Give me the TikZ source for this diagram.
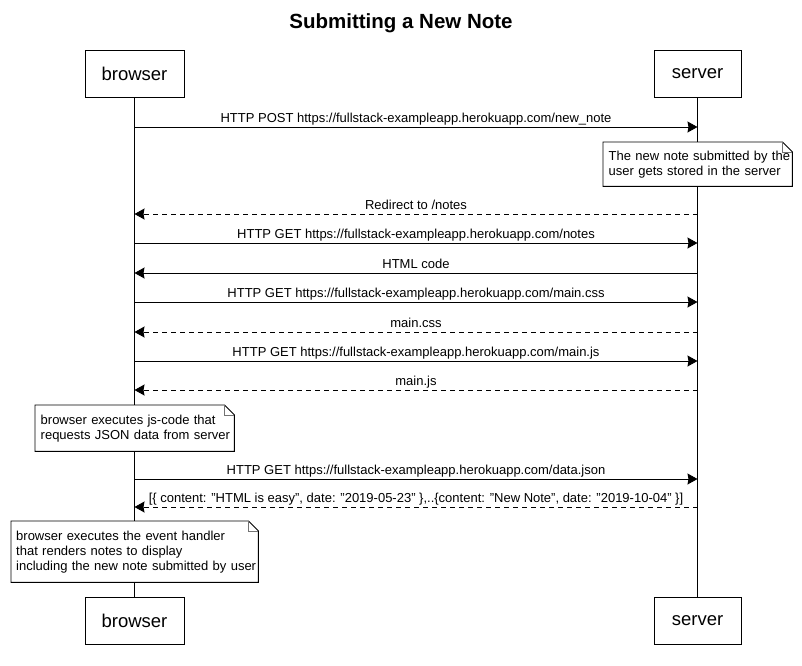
\documentclass[tikz,border=0pt]{standalone}
\usepackage{fontspec}
\setmainfont{Liberation Sans}
\usetikzlibrary{arrows.meta}
\newcommand{\msgfont}{\fontsize{13}{15}\selectfont}
\tikzset{
  actorbox/.style={draw=black, line width=0.9pt, fill=white, minimum height=47pt, inner sep=0pt, font=\fontsize{18.5}{22}\selectfont},
  lifeline/.style={draw=black, line width=0.9pt},
  reqarrow/.style={draw=black, line width=0.9pt, -{Stealth[length=10pt,width=11pt,inset=1pt]}},
  resarrow/.style={draw=black, line width=0.9pt, dash pattern=on 5pt off 4pt, -{Stealth[length=10pt,width=11pt,inset=1pt]}},
  lbl/.style={midway, anchor=base, yshift=4.5pt, inner sep=0pt, font=\msgfont},
  notetext/.style={fill=white, draw=none, inner sep=0pt, align=left, font=\msgfont, anchor=north west},
  noteline/.style={draw=black, line width=0.9pt, line join=miter},
  foldline/.style={draw=black!55, line width=0.8pt}
}
\newcommand{\notebox}[1]{%
  \draw[noteline] (#1.north west) -- ([xshift=-10pt]#1.north east) -- ([yshift=-10pt]#1.north east) -- (#1.south east) -- (#1.south west) -- cycle;
  \draw[foldline] ([xshift=-10pt]#1.north east) -- ([xshift=-10pt,yshift=-10pt]#1.north east) -- ([yshift=-10pt]#1.north east);
}
\begin{document}
\begin{tikzpicture}[x=1pt,y=-1pt]
\useasboundingbox (0,0) rectangle (802,665);
\fill[white] (0,0) rectangle (802,665);

\node[font=\bfseries\fontsize{20.5}{24}\selectfont, anchor=base, inner sep=0pt] (title) at (401,28) {Submitting a New Note};

% participants
\node[actorbox, minimum width=99pt] (bt) at (134.5,73.5) {browser};
\node[actorbox, minimum width=87pt] (st) at (697.5,73.5) {server};
\node[actorbox, minimum width=99pt] (bb) at (134.5,620.5) {browser};
\node[actorbox, minimum width=87pt] (sb) at (697.5,620.5) {server};

% lifelines
\draw[lifeline] (bt.south) -- (bb.north);
\draw[lifeline] (st.south) -- (sb.north);

% message end points
\foreach \i/\y in {1/127,2/214,3/243,4/273,5/302,6/332,7/361,8/390,9/479,10/507}{
  \coordinate (b\i) at (134.5,\y);
  \coordinate (s\i) at (697.5,\y);
}

\draw[reqarrow] (b1) -- node[lbl]{HTTP POST https://fullstack-exampleapp.herokuapp.com/new\_note} (s1);

\node[notetext, minimum width=189pt, minimum height=44pt, text width=189pt] (n1) at (603,142)
  {\hspace*{5.5pt}The new note submitted by the\\\hspace*{5.5pt}user gets stored in the server};
\notebox{n1}

\draw[resarrow] (s2) -- node[lbl]{Redirect to /notes} (b2);
\draw[reqarrow] (b3) -- node[lbl]{HTTP GET https://fullstack-exampleapp.herokuapp.com/notes} (s3);
\draw[reqarrow] (s4) -- node[lbl]{HTML code} (b4);
\draw[reqarrow] (b5) -- node[lbl]{HTTP GET https://fullstack-exampleapp.herokuapp.com/main.css} (s5);
\draw[resarrow] (s6) -- node[lbl]{main.css} (b6);
\draw[reqarrow] (b7) -- node[lbl]{HTTP GET https://fullstack-exampleapp.herokuapp.com/main.js} (s7);
\draw[resarrow] (s8) -- node[lbl]{main.js} (b8);

\node[notetext, minimum width=199pt, minimum height=46pt, text width=199pt] (n2) at (35,405)
  {\hspace*{5.5pt}browser executes js-code that\\\hspace*{5.5pt}requests JSON data from server};
\notebox{n2}

\draw[reqarrow] (b9) -- node[lbl]{HTTP GET https://fullstack-exampleapp.herokuapp.com/data.json} (s9);
\draw[resarrow] (s10) -- node[lbl]{[\{ content: "HTML is easy", date: "2019-05-23" \},..\{content: "New Note", date: "2019-10-04" \}]} (b10);

\node[notetext, minimum width=247pt, minimum height=61pt, text width=247pt] (n3) at (11,521)
  {\hspace*{5pt}browser executes the event handler\\\hspace*{5pt}that renders notes to display\\\hspace*{5pt}including the new note submitted by user};
\notebox{n3}
\end{tikzpicture}
\end{document}
